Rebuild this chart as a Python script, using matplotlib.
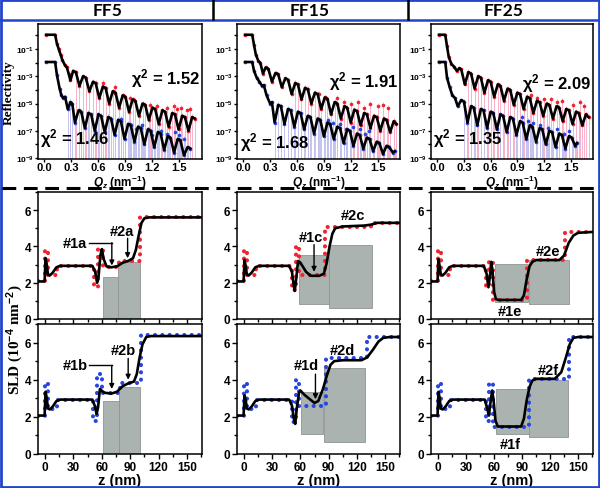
import numpy as np
import matplotlib
matplotlib.use("Agg")
import matplotlib.pyplot as plt
from matplotlib.lines import Line2D
from matplotlib.patches import Rectangle
from matplotlib.ticker import FixedLocator, FixedFormatter, MultipleLocator, NullFormatter

plt.rcParams["font.family"] = ["Liberation Sans", "DejaVu Sans"]
plt.rcParams["font.weight"] = "bold"
plt.rcParams["mathtext.fontset"] = "custom"
plt.rcParams["mathtext.rm"] = "Liberation Sans:bold"
plt.rcParams["mathtext.bf"] = "Liberation Sans:bold"
plt.rcParams["mathtext.it"] = "Liberation Sans:italic:bold"
plt.rcParams["axes.linewidth"] = 1.1

# ---- data -------------------------------------------------------------
SAMPLES = ["FF5", "FF15", "FF25"]
CHI2_RED = ["1.52", "1.91", "2.09"]
CHI2_BLUE = ["1.46", "1.68", "1.35"]

# reflectivity fits: (Qz, log10 R)
FF5_RED_FIT = [(0.02, 0.05), (0.12, 0.05), (0.14, -0.6), (0.16, -1.0), (0.18, -1.4), (0.20, -1.8),
               (0.23, -2.2), (0.25, -2.35), (0.27, -2.8), (0.29, -3.3), (0.32, -2.6), (0.35, -2.7),
               (0.39, -3.7), (0.43, -3.0), (0.46, -3.1), (0.50, -4.1), (0.54, -3.4), (0.57, -3.5),
               (0.61, -4.6), (0.65, -3.75), (0.68, -3.85), (0.72, -5.0), (0.76, -4.1), (0.79, -4.2),
               (0.83, -5.3), (0.87, -4.4), (0.90, -4.5), (0.94, -5.6), (0.98, -4.7), (1.01, -4.8),
               (1.05, -5.9), (1.09, -5.0), (1.12, -5.1), (1.16, -6.2), (1.20, -5.3), (1.23, -5.4),
               (1.27, -6.5), (1.31, -5.5), (1.34, -5.6), (1.38, -6.7), (1.42, -5.7), (1.45, -5.8),
               (1.49, -6.9), (1.53, -5.9), (1.56, -6.0), (1.60, -7.0), (1.64, -6.0), (1.67, -6.1)]
FF5_BLUE_FIT = [(0.02, -1.95), (0.12, -1.95), (0.14, -2.9), (0.17, -3.9), (0.19, -4.4), (0.21, -4.6),
                (0.23, -4.5), (0.26, -5.4), (0.29, -4.9), (0.31, -5.0), (0.34, -6.4), (0.38, -5.5),
                (0.41, -5.6), (0.45, -6.8), (0.49, -5.7), (0.52, -5.8), (0.56, -7.0), (0.60, -5.8),
                (0.63, -5.9), (0.67, -7.1), (0.71, -6.0), (0.74, -6.1), (0.78, -7.3), (0.82, -6.2),
                (0.85, -6.3), (0.89, -7.6), (0.93, -6.5), (0.96, -6.6), (1.00, -7.8), (1.04, -6.7),
                (1.07, -6.8), (1.11, -8.0), (1.15, -6.9), (1.18, -7.0), (1.22, -8.2), (1.26, -7.1),
                (1.29, -7.2), (1.33, -8.4), (1.37, -7.4), (1.40, -7.5), (1.44, -8.6), (1.48, -7.6),
                (1.51, -7.7), (1.55, -8.8), (1.59, -8.2), (1.62, -8.3)]
FF15_RED_FIT = [(0.02, 0.05), (0.10, 0.05), (0.12, -0.7), (0.14, -1.4), (0.17, -1.9), (0.19, -2.0),
                (0.22, -2.8), (0.25, -2.35), (0.28, -2.45), (0.32, -3.4), (0.36, -2.75), (0.39, -2.85),
                (0.43, -3.8), (0.47, -3.15), (0.50, -3.25), (0.54, -4.3), (0.58, -3.5), (0.61, -3.6),
                (0.65, -4.7), (0.69, -3.85), (0.72, -3.95), (0.76, -5.0), (0.80, -4.2), (0.83, -4.3),
                (0.87, -5.4), (0.91, -4.55), (0.94, -4.65), (0.98, -5.8), (1.02, -4.9), (1.05, -5.0),
                (1.09, -6.1), (1.13, -5.2), (1.16, -5.3), (1.20, -6.4), (1.24, -5.45), (1.27, -5.55),
                (1.31, -6.6), (1.35, -5.7), (1.38, -5.8), (1.42, -6.8), (1.46, -5.9), (1.49, -6.0),
                (1.53, -7.0), (1.57, -6.1), (1.60, -6.2), (1.64, -7.1), (1.68, -6.3), (1.71, -6.5)]
FF15_BLUE_FIT = [(0.02, -1.95), (0.10, -1.95), (0.12, -2.6), (0.15, -3.1), (0.18, -3.4), (0.21, -3.7),
                 (0.23, -3.65), (0.26, -4.4), (0.30, -5.0), (0.32, -4.9), (0.35, -6.4), (0.39, -5.1),
                 (0.42, -5.2), (0.46, -6.5), (0.50, -5.4), (0.53, -5.5), (0.57, -6.7), (0.61, -5.6),
                 (0.64, -5.7), (0.68, -6.9), (0.72, -5.9), (0.75, -6.0), (0.79, -7.2), (0.83, -6.1),
                 (0.86, -6.2), (0.90, -7.4), (0.94, -6.4), (0.97, -6.5), (1.01, -7.6), (1.05, -6.7),
                 (1.08, -6.8), (1.12, -7.9), (1.16, -6.9), (1.19, -7.0), (1.23, -8.1), (1.27, -7.2),
                 (1.30, -7.3), (1.34, -8.3), (1.38, -7.5), (1.41, -7.6), (1.45, -8.5), (1.49, -7.8),
                 (1.52, -7.9), (1.56, -8.7), (1.60, -8.1), (1.63, -8.2), (1.67, -8.6), (1.69, -8.5)]
FF25_RED_FIT = [(0.02, 0.05), (0.09, 0.05), (0.11, -0.8), (0.13, -1.6), (0.16, -2.1), (0.19, -2.3),
                (0.22, -2.6), (0.25, -2.4), (0.27, -2.5), (0.31, -3.6), (0.35, -2.7), (0.38, -2.8),
                (0.42, -3.9), (0.46, -3.0), (0.49, -3.1), (0.53, -4.2), (0.57, -3.3), (0.60, -3.4),
                (0.64, -4.5), (0.68, -3.6), (0.71, -3.7), (0.75, -4.8), (0.79, -3.9), (0.82, -4.0),
                (0.86, -5.1), (0.90, -4.2), (0.93, -4.3), (0.97, -5.4), (1.01, -4.5), (1.04, -4.6),
                (1.08, -5.7), (1.12, -4.8), (1.15, -4.9), (1.19, -5.9), (1.23, -5.0), (1.26, -5.1),
                (1.30, -6.1), (1.34, -5.2), (1.37, -5.3), (1.41, -6.3), (1.45, -5.4), (1.48, -5.5),
                (1.52, -6.5), (1.56, -5.6), (1.59, -5.7), (1.63, -6.6), (1.67, -5.8), (1.70, -6.0)]
FF25_BLUE_FIT = [(0.02, -1.95), (0.09, -1.95), (0.11, -3.1), (0.14, -3.8), (0.17, -4.4), (0.20, -4.6),
                 (0.23, -5.2), (0.27, -4.75), (0.30, -4.85), (0.34, -6.4), (0.38, -5.2), (0.41, -5.3),
                 (0.45, -6.6), (0.49, -5.4), (0.52, -5.5), (0.56, -6.8), (0.60, -5.6), (0.63, -5.7),
                 (0.67, -6.9), (0.71, -5.8), (0.74, -5.9), (0.78, -7.1), (0.82, -6.0), (0.85, -6.1),
                 (0.89, -7.3), (0.93, -6.3), (0.96, -6.4), (1.00, -7.6), (1.04, -6.6), (1.07, -6.7),
                 (1.11, -7.8), (1.15, -6.8), (1.18, -6.9), (1.22, -8.0), (1.26, -7.0), (1.29, -7.1),
                 (1.33, -8.2), (1.37, -7.2), (1.40, -7.3), (1.44, -8.3), (1.48, -7.4), (1.51, -7.5),
                 (1.55, -8.1), (1.57, -7.9)]

# scattered measured points lying off the fit (Qz, log10 R)
FF5_RED_EXTRA = [(0.65, -3.5), (0.78, -3.8), (0.95, -4.6), (1.10, -5.0), (1.17, -5.1), (1.25, -5.2),
                 (1.36, -5.3), (1.44, -5.2), (1.47, -5.4), (1.52, -5.3), (1.58, -5.5), (1.62, -5.4)]
FF5_BLUE_EXTRA = [(0.85, -6.1), (0.95, -6.5), (1.02, -6.9), (1.08, -6.6), (1.15, -6.9), (1.20, -7.3),
                  (1.30, -7.0), (1.36, -7.2), (1.45, -7.1), (1.50, -7.3), (1.55, -7.6)]
FF15_RED_EXTRA = [(0.85, -4.3), (1.05, -4.6), (1.12, -4.9), (1.20, -5.0), (1.28, -4.9), (1.35, -5.3),
                  (1.42, -5.0), (1.50, -5.2), (1.56, -5.1), (1.62, -5.3)]
FF15_BLUE_EXTRA = [(0.95, -6.2), (1.00, -6.4), (1.08, -6.5), (1.15, -6.9), (1.22, -6.7), (1.30, -6.9),
                   (1.36, -7.2), (1.40, -7.0)]
FF25_RED_EXTRA = [(1.05, -4.4), (1.12, -4.6), (1.20, -4.7), (1.28, -4.7), (1.35, -4.9), (1.40, -4.8),
                  (1.52, -5.1), (1.60, -4.9), (1.65, -5.2)]
FF25_BLUE_EXTRA = [(0.95, -6.0), (1.02, -6.3), (1.08, -6.4), (1.15, -6.6), (1.25, -6.8), (1.35, -6.9),
                   (1.42, -7.2), (1.48, -7.0)]

# Qz above which the error bars reach the bottom of the plot
ERR_START_RED = [0.35, 0.55, 0.33]
ERR_START_BLUE = [0.24, 0.35, 0.29]

# SLD fits: (z, SLD)
FF5_RED_SLD = [(-8, 2.07), (-0.5, 2.07), (0.5, 3.35), (1.8, 3.0), (3, 2.45), (5, 2.4), (8, 2.55),
               (12, 2.85), (16, 2.93), (50, 2.93), (53, 2.6), (55, 2.0), (56.5, 2.3), (58.5, 3.5),
               (60, 3.85), (62, 3.3), (65, 2.9), (70, 2.85), (76, 2.9), (82, 3.1), (88, 3.2),
               (93, 3.35), (96, 3.8), (99, 4.6), (102, 5.3), (105, 5.55), (110, 5.6), (166, 5.6)]
FF15_RED_SLD = [(-8, 2.07), (-0.5, 2.07), (0.5, 3.25), (1.8, 2.9), (3, 2.45), (5, 2.4), (8, 2.55),
                (12, 2.85), (16, 2.93), (48, 2.93), (51, 2.6), (53, 1.8), (54, 1.55), (55.5, 2.2),
                (57.5, 3.2), (60, 3.1), (63, 2.85), (66, 2.6), (71, 2.38), (80, 2.38), (85, 2.5),
                (88, 3.1), (91, 4.0), (94, 4.7), (97, 5.0), (105, 5.1), (128, 5.15), (135, 5.2),
                (142, 5.3), (166, 5.3)]
FF25_RED_SLD = [(-8, 2.07), (-0.5, 2.07), (0.5, 3.3), (1.8, 2.9), (3, 2.45), (5, 2.4), (8, 2.55),
                (12, 2.85), (16, 2.93), (49, 2.93), (52, 2.5), (54, 1.75), (55.5, 2.3), (57, 3.15),
                (58.5, 2.6), (60, 1.5), (62, 1.1), (65, 1.05), (89, 1.05), (92, 1.3), (95, 2.2),
                (98, 2.9), (101, 3.15), (105, 3.25), (130, 3.25), (135, 3.5), (140, 4.2), (145, 4.6),
                (150, 4.75), (166, 4.8)]
FF5_BLUE_SLD = [(-8, 2.07), (-0.5, 2.07), (0.5, 3.35), (1.8, 3.0), (3, 2.45), (5, 2.4), (8, 2.55),
                (12, 2.85), (16, 2.93), (50, 2.93), (52.5, 2.6), (54.5, 2.15), (56, 2.5), (58, 3.5),
                (60, 3.4), (63, 3.3), (70, 3.25), (76, 3.35), (82, 3.65), (88, 3.8), (94, 3.9),
                (97, 4.3), (100, 5.2), (103, 5.9), (107, 6.3), (112, 6.35), (166, 6.35)]
FF15_BLUE_SLD = [(-8, 2.07), (-0.5, 2.07), (0.5, 3.15), (1.8, 2.9), (3, 2.45), (5, 2.4), (8, 2.55),
                 (12, 2.85), (16, 2.93), (48, 2.93), (51, 2.6), (53, 1.9), (54.5, 1.62), (56, 2.4),
                 (58.5, 3.3), (60, 3.42), (64, 3.2), (70, 2.95), (75, 2.75), (79, 2.85), (84, 3.5),
                 (88, 4.2), (92, 4.8), (96, 5.0), (105, 5.05), (125, 5.05), (131, 5.2), (137, 5.6),
                 (143, 6.05), (148, 6.25), (155, 6.3), (166, 6.3)]
FF25_BLUE_SLD = [(-8, 2.07), (-0.5, 2.07), (0.5, 3.35), (1.8, 3.0), (3, 2.45), (5, 2.4), (8, 2.55),
                 (12, 2.85), (16, 2.93), (50, 2.93), (52.5, 2.5), (54.5, 2.07), (56, 2.7), (58, 3.42),
                 (59.5, 2.9), (61.5, 1.8), (64, 1.48), (89, 1.48), (92, 1.9), (95, 2.9), (98, 3.6),
                 (101, 3.95), (105, 4.05), (125, 4.05), (132, 4.4), (137, 5.2), (141, 5.9),
                 (145, 6.25), (150, 6.3), (166, 6.3)]

# slab models: layer edges (z) and SLD per layer
FF5_RED_EDGES = [-8, 0, 3, 13, 52, 56, 61, 78, 100, 166]
FF5_RED_LEVELS = [2.07, 3.8, 2.4, 2.93, 1.75, 3.85, 2.85, 3.2, 5.6]
FF15_RED_EDGES = [-8, 0, 3, 13, 51, 55, 59, 86, 135, 166]
FF15_RED_LEVELS = [2.07, 3.8, 2.4, 2.93, 1.6, 4.0, 2.4, 5.05, 5.3]
FF25_RED_EDGES = [-8, 0, 3, 13, 51, 55, 59, 95, 136, 166]
FF25_RED_LEVELS = [2.07, 3.8, 2.4, 2.93, 1.75, 3.2, 1.05, 3.25, 4.8]
FF5_BLUE_EDGES = [-8, 0, 3, 13, 51, 55, 60, 79, 101, 166]
FF5_BLUE_LEVELS = [2.07, 3.8, 2.4, 2.93, 1.8, 4.3, 3.3, 3.8, 6.4]
FF15_BLUE_EDGES = [-8, 0, 3, 13, 51, 55, 59, 87, 131, 166]
FF15_BLUE_LEVELS = [2.07, 3.8, 2.4, 2.93, 1.7, 4.0, 2.6, 5.15, 6.3]
FF25_BLUE_EDGES = [-8, 0, 3, 13, 51, 55, 59, 97, 140, 166]
FF25_BLUE_LEVELS = [2.07, 3.8, 2.4, 2.93, 1.8, 3.8, 1.45, 4.05, 6.3]

# grey layer boxes: (z from, z to, SLD bottom, SLD top)
FF5_RED_BOXES = [(61.5, 77.5, 0, 2.32), (77.5, 100, 0, 3.12)]
FF15_RED_BOXES = [(59, 90, 0.85, 3.55), (90, 136, 0.6, 4.1)]
FF25_RED_BOXES = [(61, 96, 0.95, 3.05), (97, 140, 0.8, 3.25)]
FF5_BLUE_BOXES = [(61, 78.5, 0, 2.88), (78.5, 100, 0, 3.6)]
FF15_BLUE_BOXES = [(61, 84, 1.08, 3.33), (85, 129, 0.63, 4.65)]
FF25_BLUE_BOXES = [(62, 97, 1.08, 3.5), (97, 139, 0.9, 4.0)]

# labels: (text, z, SLD)
FF5_RED_LABELS = [("#1a", 32, 4.2), ("#2a", 81, 4.87)]
FF15_RED_LABELS = [("#1c", 71.5, 4.5), ("#2c", 116, 5.75)]
FF25_RED_LABELS = [("#2e", 117.5, 3.75), ("#1e", 77, 0.43)]
FF5_BLUE_LABELS = [("#1b", 32, 4.77), ("#2b", 82.7, 5.58)]
FF15_BLUE_LABELS = [("#1d", 66.5, 4.77), ("#2d", 105, 5.58)]
FF25_BLUE_LABELS = [("#2f", 118, 4.5), ("#1f", 77.4, 0.54)]

# arrows: (z, SLD start, SLD end), hook lines: (z start, z end, SLD)
FF5_RED_ARROWS = [(70.6, 4.2, 2.95), (87.3, 4.45, 3.35)]
FF5_RED_HOOK = [(46, 70.6, 4.2)]
FF15_RED_ARROWS = [(74.5, 4.1, 2.6)]
FF5_BLUE_ARROWS = [(70.5, 4.77, 3.5), (87.9, 5.15, 4.0)]
FF5_BLUE_HOOK = [(46, 70.5, 4.77)]
FF15_BLUE_ARROWS = [(76, 4.3, 2.95)]

RED = "#f0232e"
BLUE = "#2845e0"
PINK = "#f7b3cb"
LAV = "#c2c2ee"
BOXC = "#abb3b0"
FRAME = "#2244cc"

W, H = 600, 489
fig = plt.figure(figsize=(W / 100, H / 100), dpi=100)


def px_axes(x0, y0, x1, y1):
    return fig.add_axes([x0 / W, 1 - y1 / H, (x1 - x0) / W, (y1 - y0) / H])


COLS = [(38, 202), (237, 400), (431, 593)]


def style_ticks(ax):
    ax.tick_params(which="both", direction="out", width=1.0, labelsize=8.5, pad=1.5)
    ax.tick_params(which="major", length=3.5)
    ax.tick_params(which="minor", length=2)


def draw_refl(ax, fit, extra, color, bar_color, q_bar):
    q, lr = np.array(fit).T
    qe, le = np.array(extra).T
    pq = np.concatenate([q, qe])
    pr = 10.0 ** np.concatenate([lr, le])
    sel = pq >= q_bar
    ax.vlines(pq[sel], 1e-11, pr[sel] * 1.6, color=bar_color, lw=0.7, zorder=1)
    ax.plot(pq, pr, "o", ms=2.6, mew=0, color=color, zorder=2)
    ax.plot(q, 10.0 ** lr, color="black", lw=1.9, zorder=3)


def draw_sld(ax, fit, edges, levels, boxes, color, labels, arrows=(), hooks=()):
    for z0, z1, b, t in boxes:
        ax.bar(z0, t - b, width=z1 - z0, bottom=b, align="edge", color=BOXC,
               edgecolor="#8d9592", lw=0.6, zorder=1)
    zs = np.repeat(edges, 2)[1:-1]
    ys = np.repeat(levels, 2)
    ax.plot(zs, ys, color=color, lw=3.0, ls=(0, (0.01, 1.75)), dash_capstyle="round", zorder=2)
    z, s = np.array(fit).T
    ax.plot(z, s, color="black", lw=1.9, zorder=3)
    for txt, x, y in labels:
        ax.text(x, y, txt, ha="center", va="center", fontsize=10.5, fontweight="bold", zorder=5)
    for x, y0, y1 in arrows:
        ax.annotate("", xy=(x, y1), xytext=(x, y0),
                    arrowprops=dict(arrowstyle="-|>", lw=1.0, color="black", mutation_scale=7,
                                    shrinkA=0, shrinkB=0), zorder=5)
    for x0, x1, y in hooks:
        ax.plot([x0, x1], [y, y], color="black", lw=1.0, zorder=5)
    ax.set_xlim(-7.5, 166)
    ax.set_ylim(0, 7)
    ax.xaxis.set_major_locator(MultipleLocator(30))
    ax.xaxis.set_minor_locator(MultipleLocator(15))
    ax.yaxis.set_major_locator(MultipleLocator(2))
    ax.yaxis.set_minor_locator(MultipleLocator(1))
    style_ticks(ax)


refl = [(FF5_RED_FIT, FF5_RED_EXTRA, FF5_BLUE_FIT, FF5_BLUE_EXTRA),
        (FF15_RED_FIT, FF15_RED_EXTRA, FF15_BLUE_FIT, FF15_BLUE_EXTRA),
        (FF25_RED_FIT, FF25_RED_EXTRA, FF25_BLUE_FIT, FF25_BLUE_EXTRA)]
chi_red_pos = [(0.99, 0.60), (0.99, 0.58), (0.99, 0.57)]
chi_blue_pos = [(0.01, 0.16), (0.02, 0.13), (0.01, 0.16)]

for i, (x0, x1) in enumerate(COLS):
    rf, re, bf, be = refl[i]
    ax = px_axes(x0, 25, x1, 160)
    draw_refl(ax, rf, re, RED, PINK, ERR_START_RED[i])
    draw_refl(ax, bf, be, BLUE, LAV, ERR_START_BLUE[i])
    ax.set_yscale("log")
    ax.set_xlim(-0.07, 1.75)
    ax.set_ylim(10 ** -9.07, 10 ** 0.84)
    ax.xaxis.set_major_locator(MultipleLocator(0.3))
    ax.xaxis.set_major_formatter(plt.FuncFormatter(lambda v, p: f"{v:.1f}"))
    ax.yaxis.set_major_locator(FixedLocator([1e-9, 1e-7, 1e-5, 1e-3, 1e-1]))
    ax.yaxis.set_major_formatter(FixedFormatter([r"$10^{-9}$", r"$10^{-7}$", r"$10^{-5}$",
                                                  r"$10^{-3}$", r"$10^{-1}$"]))
    ax.yaxis.set_minor_locator(FixedLocator([1e-8, 1e-6, 1e-4, 1e-2, 1e0]))
    ax.yaxis.set_minor_formatter(NullFormatter())
    style_ticks(ax)
    ax.tick_params(axis="y", labelsize=6, pad=0.5)
    ax.tick_params(axis="y", which="major", length=2.5)
    ax.tick_params(axis="x", which="both", length=2, pad=0.5, labelsize=8)
    ax.set_xlabel(r"$\mathit{Q_z}$ (nm$^{-1}$)", fontsize=8.5, fontweight="bold", labelpad=0.5)
    ax.text(*chi_red_pos[i], "χ$^{2}$ = " + CHI2_RED[i], transform=ax.transAxes,
            ha="right", va="center", fontsize=12, fontweight="bold")
    ax.text(*chi_blue_pos[i], "χ$^{2}$ = " + CHI2_BLUE[i], transform=ax.transAxes,
            ha="left", va="center", fontsize=12, fontweight="bold")

fig.text(9 / W, 1 - 93 / H, "Reflectivity", rotation=90, ha="center", va="center",
         family=["Liberation Serif", "DejaVu Serif"], fontsize=9.5, fontweight="bold")

mid = [(FF5_RED_SLD, FF5_RED_EDGES, FF5_RED_LEVELS, FF5_RED_BOXES, FF5_RED_LABELS, FF5_RED_ARROWS, FF5_RED_HOOK),
       (FF15_RED_SLD, FF15_RED_EDGES, FF15_RED_LEVELS, FF15_RED_BOXES, FF15_RED_LABELS, FF15_RED_ARROWS, []),
       (FF25_RED_SLD, FF25_RED_EDGES, FF25_RED_LEVELS, FF25_RED_BOXES, FF25_RED_LABELS, [], [])]
bot = [(FF5_BLUE_SLD, FF5_BLUE_EDGES, FF5_BLUE_LEVELS, FF5_BLUE_BOXES, FF5_BLUE_LABELS, FF5_BLUE_ARROWS, FF5_BLUE_HOOK),
       (FF15_BLUE_SLD, FF15_BLUE_EDGES, FF15_BLUE_LEVELS, FF15_BLUE_BOXES, FF15_BLUE_LABELS, FF15_BLUE_ARROWS, []),
       (FF25_BLUE_SLD, FF25_BLUE_EDGES, FF25_BLUE_LEVELS, FF25_BLUE_BOXES, FF25_BLUE_LABELS, [], [])]

for i, (x0, x1) in enumerate(COLS):
    fit, ed, lv, bx, lb, ar, hk = mid[i]
    ax = px_axes(x0, 193, x1, 320)
    draw_sld(ax, fit, ed, lv, bx, RED, lb, ar, hk)
    ax.xaxis.set_major_formatter(NullFormatter())

    fit, ed, lv, bx, lb, ar, hk = bot[i]
    ax = px_axes(x0, 325, x1, 455)
    draw_sld(ax, fit, ed, lv, bx, BLUE, lb, ar, hk)
    ax.set_xlabel("z (nm)", fontsize=10.5, fontweight="bold", labelpad=0)

fig.text(15 / W, 1 - 340 / H, r"SLD (10$^{-4}$ nm$^{-2}$)", rotation=90, ha="center", va="center",
         family=["Liberation Serif", "DejaVu Serif"], fontsize=11, fontweight="bold")

# header and frame
for name, xc in zip(SAMPLES, [108, 310, 504]):
    fig.text(xc / W, 1 - 10.5 / H, name, ha="center", va="center", fontsize=12.5, fontweight="bold",
             family=["Lato", "DejaVu Sans"])
fig.add_artist(Line2D([0, 1], [1 - 20.5 / H] * 2, color=FRAME, lw=1.8))
for xs in [213, 408]:
    fig.add_artist(Line2D([xs / W] * 2, [1 - 20 / H, 1], color="black", lw=1.8))
fig.add_artist(Line2D([0.003, 0.997], [1 - 189 / H] * 2, color="black", lw=2.2, ls=(0, (4.5, 2.5))))
fig.add_artist(Rectangle((0.002, 0.002), 0.996, 0.996, transform=fig.transFigure, fill=False,
                         edgecolor=FRAME, lw=2))

fig.savefig("out.png", dpi=100)
